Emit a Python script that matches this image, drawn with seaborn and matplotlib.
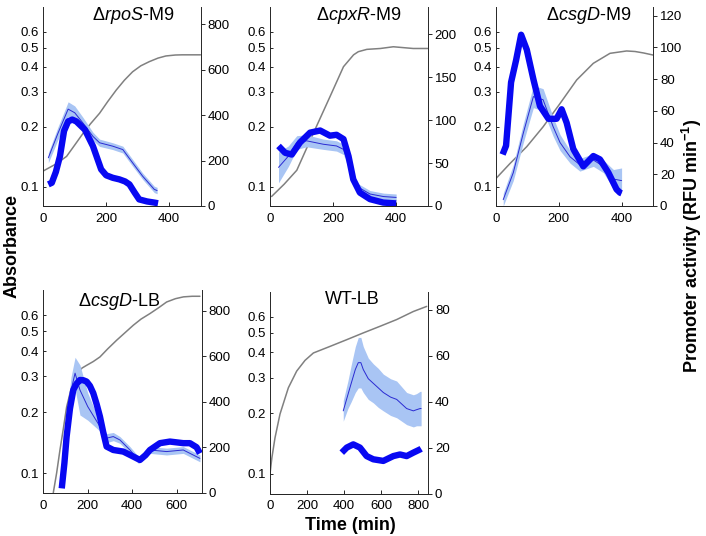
import numpy as np
import matplotlib
matplotlib.use("Agg")
import matplotlib.pyplot as plt
import seaborn as sns
from matplotlib.ticker import NullLocator

sns.set_style("white")
plt.rcParams['font.family'] = ['Liberation Sans', 'DejaVu Sans']
plt.rcParams['mathtext.fontset'] = 'custom'
plt.rcParams['mathtext.rm'] = 'Liberation Sans'
plt.rcParams['mathtext.it'] = 'Liberation Sans:italic'
plt.rcParams['mathtext.bf'] = 'Liberation Sans:bold'
plt.rcParams['text.color'] = 'black'

# ---- data ----
# dRpoS-M9
rpos_t_od = [0, 40, 74, 100, 126, 150, 179, 205, 232, 258, 284, 310, 337, 365, 390, 420, 442, 500]
rpos_od = [0.12, 0.13, 0.142, 0.162, 0.185, 0.207, 0.234, 0.268, 0.306, 0.343, 0.378, 0.405,
           0.425, 0.443, 0.454, 0.459, 0.46, 0.46]
rpos_t_mean = [16, 47, 79, 100, 126, 158, 179, 221, 253, 284, 316, 353, 362]
rpos_mean = [212, 321, 426, 410, 365, 306, 278, 263, 248, 190, 131, 73, 68]
rpos_sd = [22, 28, 32, 30, 25, 18, 16, 15, 15, 15, 14, 14, 14]
rpos_t_fit = [16, 27, 40, 53, 66, 79, 92, 105, 132, 158, 184, 200, 221, 242, 260, 274, 290,
              305, 330, 353, 365]
rpos_fit = [95, 102, 150, 219, 330, 372, 380, 372, 336, 263, 161, 135, 124, 117, 108, 95, 60,
            29, 20, 15, 12]

# dCpxR-M9
cpxr_t_od = [5, 45, 85, 137, 190, 233, 265, 280, 307, 350, 391, 454, 500]
cpxr_od = [0.0893, 0.103, 0.121, 0.185, 0.283, 0.401, 0.46, 0.477, 0.49, 0.495, 0.505, 0.495, 0.495]
cpxr_t_mean = [27, 58, 85, 116, 169, 211, 233, 254, 275, 317, 360, 400]
cpxr_mean = [45, 58, 74, 76, 72, 70, 66, 43, 23, 14, 11, 10]
cpxr_sd = [18, 12, 8, 7, 6, 6, 6, 5, 4, 4, 4, 4]
cpxr_t_fit = [27, 48, 69, 95, 127, 159, 190, 211, 233, 249, 264, 285, 317, 359, 400]
cpxr_fit = [70, 62, 60, 74, 85.5, 88, 82, 83, 78, 58, 31, 15.6, 8, 4, 3]

# dCsgD-M9
csgm_t_od = [0, 45, 98, 150, 204, 257, 310, 363, 416, 443, 470, 500]
csgm_od = [0.11, 0.131, 0.159, 0.20, 0.262, 0.344, 0.417, 0.468, 0.481, 0.478, 0.47, 0.459]
csgm_t_mean = [23, 55, 87, 119, 150, 182, 204, 236, 267, 310, 342, 374, 400]
csgm_mean = [4, 21, 46, 69, 67, 50, 40, 31, 26, 29, 25, 17, 16]
csgm_sd = [4, 5, 6, 7, 7, 6, 5, 4, 4, 4, 4, 6, 8]
csgm_t_fit = [21, 32, 48, 64, 80, 98, 119, 140, 167, 193, 209, 225, 246, 278, 310, 331, 358,
              384, 395, 400]
csgm_fit = [32.5, 38, 78, 92, 108, 98.6, 80, 63, 55, 55, 61, 52.5, 36, 25, 31.5, 29.4, 21,
            10.5, 8.4, 8]

# dCsgD-LB
csgl_t_od = [45, 60, 75, 90, 105, 125, 150, 175, 195, 225, 255, 290, 330, 370, 405, 440, 480,
             520, 555, 595, 631, 670, 705]
csgl_od = [0.08, 0.10, 0.13, 0.165, 0.212, 0.26, 0.31, 0.33, 0.34, 0.355, 0.374, 0.41, 0.452,
           0.495, 0.536, 0.575, 0.612, 0.655, 0.698, 0.725, 0.74, 0.745, 0.745]
csgl_t_mean = [83, 105, 125, 143, 165, 200, 255, 285, 315, 345, 390, 428, 480, 555, 630, 705]
csgl_mean = [100, 300, 450, 526, 452, 379, 291, 240, 247, 232, 188, 144, 188, 181, 188, 151]
csgl_sd = [20, 40, 60, 70, 110, 60, 20, 20, 18, 15, 15, 15, 15, 15, 15, 15]
csgl_t_fit = [83, 95, 105, 120, 135, 150, 165, 180, 195, 210, 225, 240, 255, 270, 285, 315, 360,
              405, 435, 460, 480, 525, 570, 630, 660, 690, 705]
csgl_fit = [19, 130, 247, 370, 452, 480, 496, 495, 489, 470, 438, 390, 335, 265, 203, 188, 181,
            159, 144, 165, 188, 218, 225, 218, 218, 200, 173]

# WT-LB
wt_t_od = [0, 10, 27, 54, 99, 144, 189, 234, 324, 414, 503, 593, 683, 773, 845]
wt_od = [0.1, 0.12, 0.151, 0.198, 0.267, 0.323, 0.365, 0.397, 0.428, 0.462, 0.499, 0.538,
         0.581, 0.637, 0.675]
wt_t_mean = [395, 420, 438, 460, 476, 490, 503, 530, 557, 584, 611, 650, 683, 710, 737, 773,
             790, 809, 815]
wt_mean = [36, 43, 48, 54, 57, 57, 54, 50, 48, 46, 44, 42, 41, 39, 37, 36, 36.5, 37, 37]
wt_sd = [4.5, 6, 8, 10, 11, 11, 10, 9, 8.5, 8.5, 8, 8, 8, 7.5, 7, 7, 7, 7.5, 7.5]
wt_t_fit = [387, 414, 449, 485, 521, 557, 611, 665, 701, 737, 773, 809, 815]
wt_fit = [17.8, 20, 21.4, 20, 16.3, 14.9, 14.2, 16.3, 17, 16.3, 17.8, 19.2, 19.5]

titles = [r"Δ$\mathit{rpoS}$-M9", r"Δ$\mathit{cpxR}$-M9", r"Δ$\mathit{csgD}$-M9",
          r"Δ$\mathit{csgD}$-LB", "WT-LB"]
abs_ticks = [0.1, 0.2, 0.3, 0.4, 0.5, 0.6]

W, H = 706, 536
fig = plt.figure(figsize=(W / 100, H / 100), dpi=100)


def rect(l, t, r, b):
    return [l / W, 1 - b / H, (r - l) / W, (b - t) / H]


panels = [
    dict(box=(43.3, 7, 200.5, 206), xmax=500, xt=[0, 200, 400], rmax=875, rt=range(0, 801, 200),
         od=(rpos_t_od, rpos_od), mean=(rpos_t_mean, rpos_mean, rpos_sd), fit=(rpos_t_fit, rpos_fit),
         title_xy=(133, 16)),
    dict(box=(270, 7, 427.7, 206), xmax=500, xt=[0, 200, 400], rmax=232, rt=range(0, 201, 50),
         od=(cpxr_t_od, cpxr_od), mean=(cpxr_t_mean, cpxr_mean, cpxr_sd), fit=(cpxr_t_fit, cpxr_fit),
         title_xy=(359, 16)),
    dict(box=(496, 7, 653, 206), xmax=500, xt=[0, 200, 400], rmax=125.5, rt=range(0, 121, 20),
         od=(csgm_t_od, csgm_od), mean=(csgm_t_mean, csgm_mean, csgm_sd), fit=(csgm_t_fit, csgm_fit),
         title_xy=(589, 16)),
    dict(box=(43.3, 290, 201.7, 492.7), xmax=713, xt=[0, 200, 400, 600], rmax=892, rt=range(0, 801, 200),
         od=(csgl_t_od, csgl_od), mean=(csgl_t_mean, csgl_mean, csgl_sd), fit=(csgl_t_fit, csgl_fit),
         title_xy=(119, 302)),
    dict(box=(270, 291.5, 428, 493.5), xmax=852, xt=[0, 200, 400, 600, 800], rmax=88, rt=range(0, 81, 20),
         od=(wt_t_od, wt_od), mean=(wt_t_mean, wt_mean, wt_sd), fit=(wt_t_fit, wt_fit),
         title_xy=(352, 300)),
]

spine_c = '#262626'
for p, title in zip(panels, titles):
    ax = fig.add_axes(rect(*p['box']))
    ax2 = ax.twinx()

    t_od, od = p['od']
    sns.lineplot(x=t_od, y=od, ax=ax, color='#808080', linewidth=1.1, legend=False)
    ax.set_yscale('log')
    ax.set_ylim(0.08, 0.8)
    ax.set_yticks(abs_ticks)
    ax.set_yticklabels([f"{v:g}" for v in abs_ticks])
    ax.yaxis.set_minor_locator(NullLocator())
    ax.set_xlim(0, p['xmax'])
    ax.set_xticks(p['xt'])

    tm, m, sd = (np.asarray(a, float) for a in p['mean'])
    ax2.fill_between(tm, m - sd, m + sd, color='#a9c5f4', linewidth=0)
    sns.lineplot(x=tm, y=m, ax=ax2, color='#2a2ad2', linewidth=0.7, legend=False)
    tf, f = p['fit']
    sns.lineplot(x=tf, y=f, ax=ax2, color='#0808f2', linewidth=4.6, legend=False,
                 solid_joinstyle='round', solid_capstyle='butt')
    ax2.set_ylim(0, p['rmax'])
    ax2.set_yticks(list(p['rt']))
    ax2.set_xlim(0, p['xmax'])

    for a in (ax, ax2):
        a.set_xlabel('')
        a.set_ylabel('')
        a.spines['top'].set_visible(False)
        for s in a.spines.values():
            s.set_color(spine_c)
            s.set_linewidth(0.7)
    ax.spines['right'].set_visible(False)
    ax2.spines['left'].set_visible(False)
    ax.tick_params(axis='both', labelsize=9.5, colors=spine_c, labelcolor='black')
    ax.tick_params(axis='x', direction='in', length=3, width=0.7, pad=5, bottom=True)
    ax.tick_params(axis='y', direction='in', length=2, width=0.7, pad=3, left=True)
    ax2.tick_params(axis='y', direction='out', length=3, width=0.7, pad=2, right=True,
                    labelsize=9.5, colors=spine_c, labelcolor='black')

    tx, ty = p['title_xy']
    fig.text(tx / W, 1 - ty / H, title, ha='center', va='center', fontsize=13, color='black')

fig.text(12 / W, 1 - 246 / H, 'Absorbance', rotation=90, ha='center', va='center',
         fontsize=13, fontweight='bold', color='black')
fig.text(692 / W, 1 - 246 / H, r'Promoter activity (RFU min$^{\mathbf{-1}}$)', rotation=90,
         ha='center', va='center', fontsize=13, fontweight='bold', color='black')
fig.text(350 / W, 1 - 525 / H, 'Time (min)', ha='center', va='center', fontsize=13,
         fontweight='bold', color='black')

fig.savefig('out.png', dpi=100)
